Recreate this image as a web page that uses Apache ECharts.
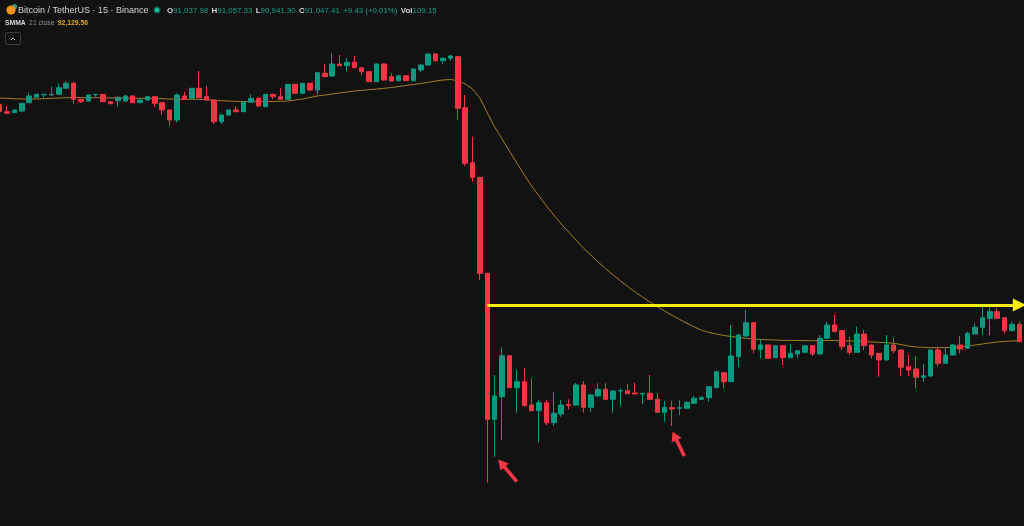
<!DOCTYPE html>
<html>
<head>
<meta charset="utf-8">
<script src="https://cdn.jsdelivr.net/npm/echarts@6/dist/echarts.min.js"></script>
<style>
html,body{margin:0;padding:0;background:#121212;overflow:hidden;}
#wrap{position:relative;width:1024px;height:526px;overflow:hidden;}
#chart{position:absolute;left:-4px;top:0;width:1028px;height:526px;}
</style>
</head>
<body>
<div id="wrap"><div id="chart"></div></div>
<script>
// BTC/USDT 15m candles
const opens = [96914,96766,96746,96780,96946,97054,97104,97100,97114,97234,97334,97014,96980,97106,97114,96966,96986,96980,97080,96946,
97000,97066,96946,96800,96600,97080,97034,97234,97066,97000,96566,96700,96800,96766,96954,97034,96866,97114,97066,97014,
97314,97134,97334,97200,97534,97480,97720,97686,97754,97646,97566,97366,97720,97466,97386,97486,97386,97600,97700,97920,
97786,97834,97866,96846,95746,95454,93534,90614,91066,91886,91246,91366,90900,90786,90946,90546,90720,90910,90900,91300,
90854,91080,91214,91014,91180,91186,91140,91120,91134,91014,90754,90846,90834,90834,90934,91014,91046,91246,91546,91366,
91866,92280,92546,92014,92100,91846,92086,91846,91920,91954,92086,91920,92234,92500,92386,92086,91954,92320,92100,91934,
91800,92100,92000,91666,91620,91454,91480,92000,91734,91900,92100,92034,92320,92454,92634,92766,92646,92386,92514];
const closes = [96766,96734,96800,96934,97080,97114,97114,97114,97246,97334,97014,96966,97100,97114,96966,96926,97054,97080,96946,97000,
97066,96934,96800,96600,97100,97014,97234,97046,97000,96566,96700,96800,96766,96954,97034,96880,97114,97066,97014,97314,
97134,97334,97200,97546,97466,97720,97686,97754,97646,97566,97366,97720,97400,97380,97486,97386,97620,97700,97920,97786,
97834,97880,96834,95734,95454,93534,90614,91080,91886,91246,91366,90886,90786,90946,90546,90734,90900,90890,91300,90854,
91100,91214,91014,91180,91190,91126,91120,91130,91014,90754,90854,90820,90846,90954,91034,91054,91266,91566,91366,91880,
92300,92546,92014,92100,91834,92086,91846,91934,91986,92086,91920,92234,92500,92366,92066,91954,92320,92086,91900,91800,
92100,91986,91654,91600,91454,91486,92000,91734,91900,92100,92020,92334,92454,92646,92766,92634,92386,92514,92166];
const highs = [96930,96880,96810,96940,97146,97130,97120,97266,97334,97380,97366,97020,97110,97120,97120,96970,97070,97100,97090,97010,
97080,97070,96950,96800,97134,97166,97240,97580,97280,97000,96710,96810,96866,96960,97114,97060,97120,97130,97234,97320,
97320,97340,97340,97560,97714,97934,97900,97834,97880,97660,97580,97730,97730,97534,97500,97500,97630,97710,97930,97930,
97850,97900,97880,97100,96266,95460,93540,91500,92054,91900,91600,91634,91434,91000,91000,91154,91000,91014,91340,91380,
91120,91334,91334,91190,91234,91320,91346,91140,91500,91134,90986,90986,91000,90970,91080,91070,91280,91580,91560,92500,
92320,92800,92560,92214,92110,92100,92100,92120,92000,92100,92100,92300,92566,92700,92400,92266,92466,92400,92110,91940,
92300,92234,92010,91900,91880,91720,92010,92054,92054,92110,92286,92366,92534,92866,92854,92834,92660,92566,92560];
const lows = [96750,96720,96740,96770,96940,97040,97030,97094,97110,97226,96914,96940,96970,97060,96960,96920,96866,96970,96940,96940,
96990,96866,96700,96486,96546,97006,97026,97040,96990,96520,96520,96690,96760,96760,96950,96870,96860,97014,97010,97010,
97130,97130,97190,97100,97460,97460,97680,97566,97640,97486,97360,97360,97390,97374,97380,97380,97380,97560,97690,97780,
97714,97786,96600,95680,95366,93400,89346,89866,90200,91240,90746,90880,90780,90154,90500,90480,90666,90814,90880,90746,
90766,91060,91000,90746,90886,91120,91114,90920,91000,90746,90566,90480,90700,90820,90920,91000,90966,91240,91234,91360,
91666,92270,91934,91834,91830,91840,91700,91840,91834,91940,91880,91910,92220,92360,92000,91900,91950,92000,91834,91466,
91790,91934,91480,91480,91234,91366,91470,91666,91730,91890,91934,92030,92310,92300,92300,92620,92334,92380,92160];
// SMMA 21 (close) as drawn
const smma21 = [97040,97034,97026,97020,97020,97020,97026,97034,97040,97046,97050,97046,97046,97046,97046,97040,97040,97040,97034,97034,
97034,97030,97026,97020,97014,97014,97014,97014,97006,96994,96986,96980,96974,96970,96966,96966,96966,96970,96974,96980,
97000,97020,97050,97080,97100,97120,97140,97160,97180,97194,97206,97220,97234,97250,97270,97290,97310,97330,97354,97380,
97400,97410,97390,97320,97220,97040,96740,96460,96220,95980,95740,95500,95280,95080,94880,94700,94520,94360,94200,94040,
93900,93760,93628,93504,93384,93270,93160,93060,92960,92868,92780,92694,92614,92536,92464,92394,92350,92320,92290,92270,
92250,92234,92220,92210,92204,92200,92194,92190,92190,92186,92186,92186,92190,92190,92180,92180,92180,92170,92160,92154,
92146,92134,92110,92080,92060,92054,92046,92046,92050,92054,92060,92080,92100,92120,92140,92160,92170,92180,92186];
// annotations
const levelPrice = 92900;        // yellow horizontal arrow
const levelFrom = 66, levelTo = 138;
const arrowMarks = [ {idx: 69, price: 89590, rot: 40, len: 29, dx: -2}, {idx: 92, price: 90124, rot: 26, len: 27, dx: -1} ];

const categories = opens.map((_, i) => String(i));
const candles = opens.map((o, i) => [o, closes[i], lows[i], highs[i]]);

const UP = '#089981', DOWN = '#f23645';
const GX = 4; // container is shifted 4px left
const chart = echarts.init(document.getElementById('chart'), null, {renderer: 'canvas'});
const arrowPath = 'path://M5.5,0 L11,9 L7.3,9 L7.3,26 L3.7,26 L3.7,9 L0,9 Z';
const FONT = '"Liberation Sans", Arial, sans-serif';

chart.setOption({
  backgroundColor: '#121212',
  animation: false,
  grid: {left: 0, right: 1, top: 0, bottom: 0},
  xAxis: {type: 'category', data: categories, show: false, boundaryGap: true},
  yAxis: {type: 'value', min: 88480, max: 99000, show: false, splitLine: {show: false}},
  series: [
    {
      type: 'candlestick',
      data: candles,
      barWidth: 5,
      itemStyle: {color: UP, color0: DOWN, borderColor: UP, borderColor0: DOWN, borderWidth: 1},
      markLine: {
        silent: true,
        symbol: ['none', 'triangle'],
        symbolSize: [13, 13],
        label: {show: false},
        lineStyle: {color: '#f7ef0a', width: 3, type: 'solid'},
        data: [[{coord: [levelFrom, levelPrice]}, {coord: [levelTo, levelPrice]}]]
      },
      markPoint: {
        silent: true,
        label: {show: false},
        data: arrowMarks.map(a => ({
          coord: [a.idx, a.price],
          symbol: arrowPath,
          symbolSize: [11, a.len],
          symbolRotate: a.rot,
          symbolOffset: [a.dx, 0],
          itemStyle: {color: DOWN}
        }))
      }
    },
    {
      type: 'line',
      data: smma21,
      showSymbol: false,
      lineStyle: {color: '#a57d22', width: 1},
      z: 1
    }
  ],
  graphic: [
    {type: 'circle', shape: {cx: GX + 14.5, cy: 6.5, r: 2.6}, style: {fill: '#2a9d8f'}},
    {type: 'circle', shape: {cx: GX + 11, cy: 10, r: 4.6}, style: {fill: '#f7931a'}},
    {type: 'text', style: {x: GX + 18, y: 10.5, text: 'Bitcoin / TetherUS · 15 · Binance', fill: '#d1d4dc', font: '9px ' + FONT, verticalAlign: 'middle'}},
    {type: 'circle', shape: {cx: GX + 157, cy: 10, r: 3.8}, style: {fill: 'rgba(8,153,129,0.35)'}},
    {type: 'circle', shape: {cx: GX + 157, cy: 10, r: 2.5}, style: {fill: '#16b592'}},
    {type: 'text', style: {x: GX + 167, y: 10.5, verticalAlign: 'middle',
      text: '{k|O}{v|91,037.98} {k|H}{v|91,057.33} {k|L}{v|90,941.30} {k|C}{v|91,047.41} {v|+9.43 (+0.01%)} {k|Vol}{v|109.15}',
      rich: {
        k: {fill: '#d1d4dc', font: 'bold 7.9px ' + FONT},
        v: {fill: '#13a386', font: '7.9px ' + FONT}
      }}},
    {type: 'text', style: {x: GX + 5, y: 23.5, verticalAlign: 'middle',
      text: '{s|SMMA} {g|21 close} {y|92,129.56}',
      rich: {
        s: {fill: '#d1d4dc', font: 'bold 6.8px ' + FONT},
        g: {fill: '#8a8d96', font: '6.8px ' + FONT},
        y: {fill: '#e0a91e', font: 'bold 6.8px ' + FONT}
      }}},
    {type: 'rect', shape: {x: GX + 5.5, y: 32.5, width: 15, height: 12, r: 1.5}, style: {fill: 'none', stroke: '#3a3a3a', lineWidth: 1}},
    {type: 'polyline', shape: {points: [[GX + 11, 40], [GX + 13, 38], [GX + 15, 40]]}, style: {stroke: '#c8c8c8', lineWidth: 1, fill: 'none'}}
  ]
});
</script>
</body>
</html>
